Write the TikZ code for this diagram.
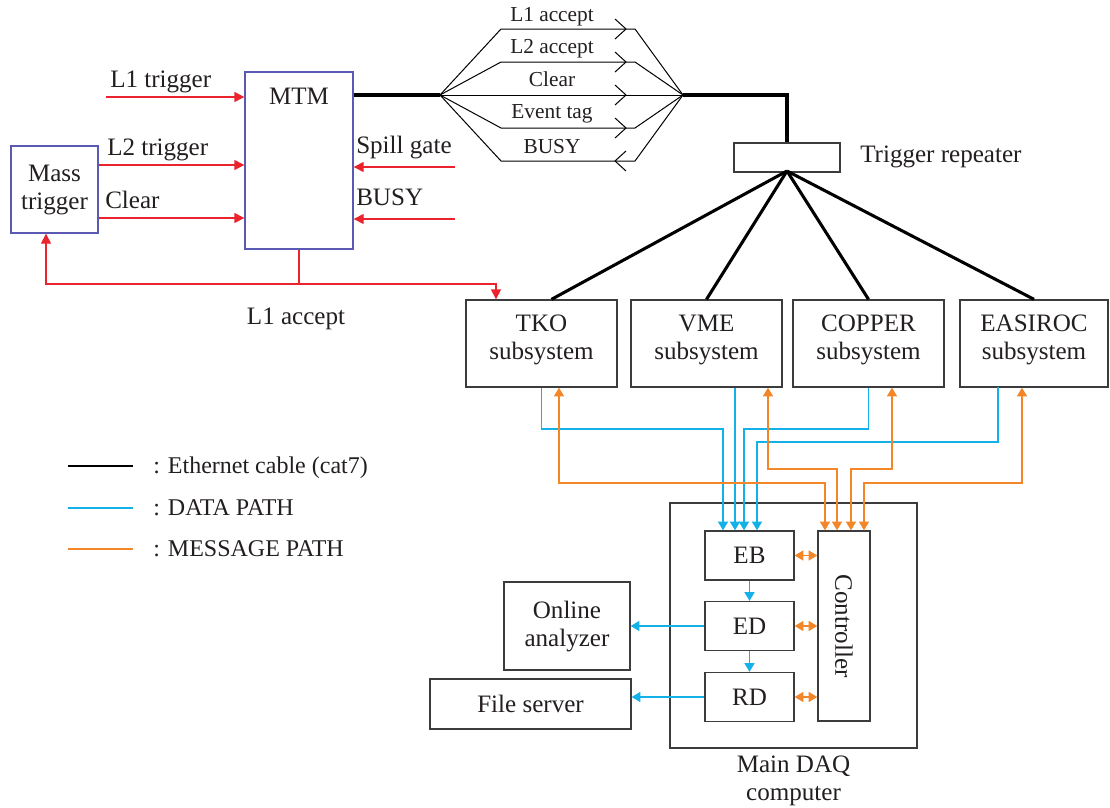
\documentclass[tikz,border=0pt]{standalone}
\usepackage{fontspec}
\setmainfont{Liberation Serif}
\usetikzlibrary{arrows.meta,calc}
\definecolor{myred}{RGB}{235,35,45}
\definecolor{myblue}{RGB}{20,176,232}
\definecolor{myorange}{RGB}{242,134,40}
\definecolor{boxblue}{RGB}{90,90,180}
\definecolor{boxgray}{RGB}{60,60,60}
\definecolor{txt}{RGB}{35,31,32}
\begin{document}
\begin{tikzpicture}[x=0.75pt,y=-0.75pt,
  every node/.style={inner sep=0pt, text=txt, font=\fontsize{18.8}{21}\selectfont},
  box/.style={draw=boxgray, line width=1pt, rectangle, align=center},
  bbox/.style={draw=boxblue, line width=1pt, rectangle, align=center},
  small/.style={font=\fontsize{16}{19}\selectfont},
  legend/.style={font=\fontsize{18}{21}\selectfont},
  redl/.style={draw=myred, line width=1pt},
  redarr/.style={redl, -{Triangle[length=7.5pt,width=7.5pt]}},
  bluel/.style={draw=myblue, line width=1pt},
  bluearr/.style={bluel, -{Triangle[length=6.5pt,width=7.5pt]}},
  orangel/.style={draw=myorange, line width=1pt},
  orangearr/.style={orangel, {Triangle[length=6.5pt,width=7.5pt]}-{Triangle[length=6.5pt,width=7.5pt]}},
  cable/.style={draw=black, line width=2.3pt},
  thinl/.style={draw=black, line width=0.75pt}
]
\useasboundingbox (0,0) rectangle (1110,807);

% ---------- boxes ----------
\node[bbox, minimum width=65.25pt, minimum height=65.25pt] (mass) at (54.5,189.5) {Mass\\trigger};
\node[bbox, minimum width=81pt, minimum height=132.75pt] (mtm) at (299,160.5) {};
\node[anchor=base] (mtmlab) at (299,104) {MTM};
\node[box, minimum width=79.5pt, minimum height=21.75pt] (rep) at (787,157.5) {};
\node[anchor=base west] (replab) at (860,162) {Trigger repeater};

\node[box, minimum width=113.25pt, minimum height=65.25pt] (tko) at (541.5,343.5) {};
\node[box, minimum width=113.25pt, minimum height=65.25pt] (vme) at (706.5,343.5) {};
\node[box, minimum width=113.25pt, minimum height=65.25pt] (cop) at (868.5,343.5) {};
\node[box, minimum width=111pt, minimum height=65.25pt] (eas) at (1034,343.5) {};
\node[align=center] at ($(tko.center)+(0,-4)$) {TKO\\subsystem};
\node[align=center] at ($(vme.center)+(0,-4)$) {VME\\subsystem};
\node[align=center] at ($(cop.center)+(0,-4)$) {COPPER\\subsystem};
\node[align=center] at ($(eas.center)+(0,-4)$) {EASIROC\\subsystem};

\node[box, minimum width=185.25pt, minimum height=183.75pt] (daq) at (793.5,625.5) {};
\node[anchor=north, align=center, inner sep=5pt] (daqlab) at (daq.south) {Main DAQ\\computer};
\node[box, minimum width=66.75pt, minimum height=36.75pt] (eb) at (749.5,555.5) {EB};
\node[box, minimum width=66.75pt, minimum height=36.75pt] (ed) at (749.5,626) {ED};
\node[box, minimum width=66.75pt, minimum height=36.75pt] (rd) at (749.5,697) {RD};
\node[box, minimum width=39pt, minimum height=142.5pt] (ctrl) at (844,626) {};
\node[rotate=-90] (ctrllab) at (ctrl.center) {Controller};
\node[box, minimum width=94.5pt, minimum height=66pt] (online) at (567,626) {Online\\analyzer};
\node[box, minimum width=150.75pt, minimum height=37.5pt] (file) at (530.5,704) {File server};

% ---------- red trigger signals ----------
\coordinate (l1t) at (106,97);
\coordinate (yL2) at (0,165);
\coordinate (yCl) at (0,218);
\coordinate (sg) at (455,167);
\coordinate (bz) at (455,219);
\coordinate (ma) at (46,284);
\coordinate (ta) at (496,284);
\draw[redarr] (l1t) -- (l1t -| mtm.west);
\draw[redarr] (mass.east |- yL2) -- (mtm.west |- yL2);
\draw[redarr] (mass.east |- yCl) -- (mtm.west |- yCl);
\draw[redarr] (sg) -- (sg -| mtm.east);
\draw[redarr] (bz) -- (bz -| mtm.east);
\draw[redarr] (mtm.south) -- (mtm.south |- ma) -- (ma) -- (ma |- mass.south);
\draw[redarr] (mtm.south |- ma) -- (ta) -- (ta |- tko.north);

\node[anchor=base west] at (110,87) {L1 trigger};
\node[anchor=base west] at (107,155) {L2 trigger};
\node[anchor=base west] at (105,208) {Clear};
\node[anchor=base west] at (356,153) {Spill gate};
\node[anchor=base west] at (356,205) {BUSY};
\node[anchor=base] at (296,324) {L1 accept};

% ---------- cable and signal fan ----------
\coordinate (fanL) at (440,95);
\coordinate (fanR) at (683,95);
\coordinate (corner) at (787,95);
\draw[cable] (mtm.east |- fanL) -- (fanL);
\draw[cable] (fanR) -- (corner) -- (rep.north);
\foreach \yy in {29,62,128,161}{
  \draw[thinl] (fanL) -- (501,\yy) -- (635,\yy) -- (fanR);
}
\draw[thinl] (fanL) -- (fanR);
\foreach \yy in {29,62,95,128}{
  \draw[thinl] (615,\yy-10) -- (626,\yy) -- (615,\yy+10);
}
\draw[thinl] (626,151) -- (615,161) -- (626,171);
\node[small, anchor=base] at (552,21) {L1 accept};
\node[small, anchor=base] at (552,53) {L2 accept};
\node[small, anchor=base] at (552,86) {Clear};
\node[small, anchor=base] at (552,118) {Event tag};
\node[small, anchor=base] at (552,153) {BUSY};

\coordinate (hub) at (787,171);
\draw[cable] (hub) -- ($(tko.north)+(10,0)$);
\draw[cable] (hub) -- (vme.north);
\draw[cable] (hub) -- (cop.north);
\draw[cable] (hub) -- (eas.north);

% ---------- data paths ----------
\coordinate (b1) at (723,429);
\coordinate (b2) at (735,0);
\coordinate (b3) at (744,429);
\coordinate (b4) at (757,442);
\coordinate (e4) at (998,387);
\draw[bluearr] (tko.south) |- (b1) -- (b1 |- eb.north);
\draw[bluearr] (vme.south -| b2) -- (eb.north -| b2);
\draw[bluearr] (cop.south) |- (b3) -- (b3 |- eb.north);
\draw[bluearr] (e4) |- (b4) -- (b4 |- eb.north);
\draw[bluearr] (eb.south) -- (ed.north);
\draw[bluearr] (ed.south) -- (rd.north);
\draw[bluearr] (ed.west) -- (ed.west -| online.east);
\draw[bluearr] (rd.west) -- (rd.west -| file.east);

% ---------- message paths ----------
\coordinate (o1) at (559,483);
\coordinate (o1c) at (825,483);
\coordinate (o2) at (768,469);
\coordinate (o2c) at (837,469);
\coordinate (o3) at (892,469);
\coordinate (o3c) at (851,469);
\coordinate (o4) at (1022,483);
\coordinate (o4c) at (864,483);
\draw[orangearr] (o1 |- tko.south) -- (o1) -- (o1c) -- (o1c |- ctrl.north);
\draw[orangearr] (o2 |- vme.south) -- (o2) -- (o2c) -- (o2c |- ctrl.north);
\draw[orangearr] (o3 |- cop.south) -- (o3) -- (o3c) -- (o3c |- ctrl.north);
\draw[orangearr] (o4 |- eas.south) -- (o4) -- (o4c) -- (o4c |- ctrl.north);
\draw[orangearr] (eb.east) -- (eb.east -| ctrl.west);
\draw[orangearr] (ed.east) -- (ed.east -| ctrl.west);
\draw[orangearr] (rd.east) -- (rd.east -| ctrl.west);

% ---------- legend ----------
\coordinate (lg1) at (68,466);
\coordinate (lg1e) at (133,466);
\coordinate (lg2) at (68,508);
\coordinate (lg2e) at (133,508);
\coordinate (lg3) at (68,549);
\coordinate (lg3e) at (133,549);
\draw[cable, line width=2.2pt] (lg1) -- (lg1e);
\draw[bluel] (lg2) -- (lg2e);
\draw[orangel] (lg3) -- (lg3e);
\node[legend, anchor=base west] at (153,473) {: Ethernet cable (cat7)};
\node[legend, anchor=base west] at (153,515) {: DATA PATH};
\node[legend, anchor=base west] at (153,556) {: MESSAGE PATH};
\end{tikzpicture}
\end{document}
